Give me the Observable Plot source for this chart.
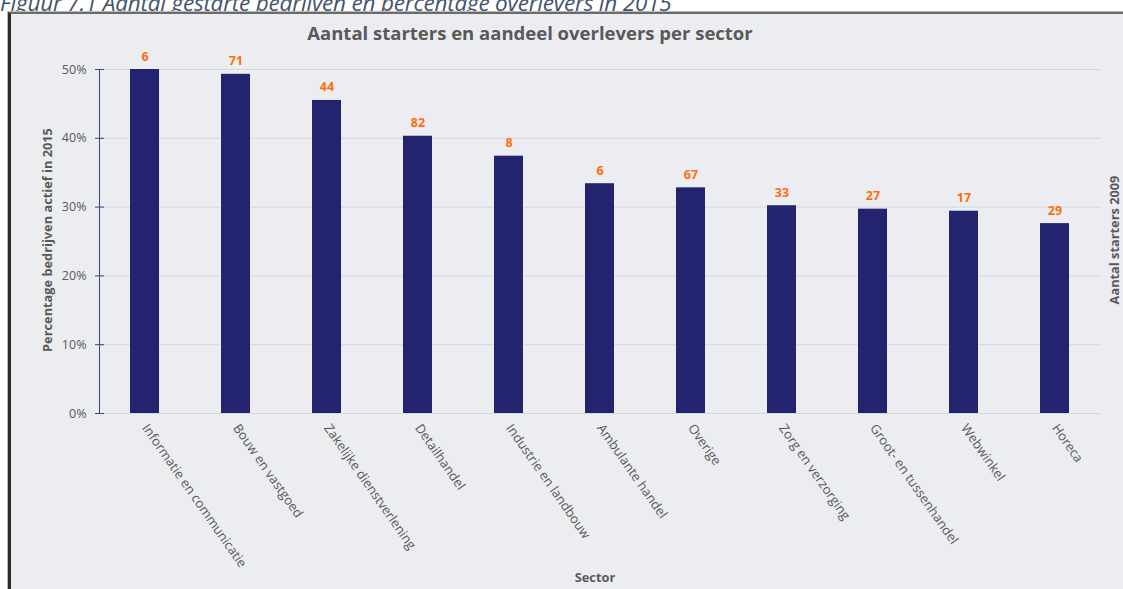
<!DOCTYPE html>
<html>
<head>
<meta charset="utf-8">
<script src="https://cdn.jsdelivr.net/npm/d3@7"></script>
<script src="https://cdn.jsdelivr.net/npm/@observablehq/plot@0.6"></script>
<style>
  html, body { margin: 0; padding: 0; background: #fff; overflow: hidden; width: 1123px; height: 589px; }
  #wrap { position: relative; width: 1123px; height: 589px; overflow: hidden; }
  #caption { position: absolute; left: 0; top: -13px; font: italic 22.5px "Open Sans", sans-serif; color: #44546a; white-space: nowrap; letter-spacing: -0.2px; }
  #frame { position: absolute; left: 8px; top: 12px; width: 1130px; height: 600px; background: #ecedf1; border-left: 3px solid #2b2b2b; border-top: 2px solid #6b6b6b; box-shadow: -1px -1px 0 #b8b8b8; }
  #chart { position: absolute; left: 0; top: 0; }
  .lbl { position: absolute; font-family: "Open Sans", sans-serif; font-weight: bold; color: #595959; white-space: nowrap; }
  #title { left: 530px; top: 32px; transform: translate(-50%, -50%); font-size: 18.5px; }
  #ylab { left: 47px; top: 240px; transform: translate(-50%, -50%) rotate(-90deg); font-size: 12.8px; }
  #ylab2 { left: 1114px; top: 240px; transform: translate(-50%, -50%) rotate(-90deg); font-size: 12.8px; }
  #xlab { left: 595px; top: 578px; transform: translate(-50%, -50%); font-size: 12.8px; line-height: 1.2; }
</style>
</head>
<body>
<div id="wrap">
  <div id="caption">Figuur 7.1 Aantal gestarte bedrijven en percentage overlevers in 2015</div>
  <div id="frame"></div>
  <div id="chart"></div>
  <div class="lbl" id="title">Aantal starters en aandeel overlevers per sector</div>
  <div class="lbl" id="ylab">Percentage bedrijven actief in 2015</div>
  <div class="lbl" id="ylab2">Aantal starters 2009</div>
  <div class="lbl" id="xlab">Sector</div>
</div>
<script>
const sectors = [
  "Informatie en communicatie",
  "Bouw en vastgoed",
  "Zakelijke dienstverlening",
  "Detailhandel",
  "Industrie en landbouw",
  "Ambulante handel",
  "Overige",
  "Zorg en verzorging",
  "Groot- en tussenhandel",
  "Webwinkel",
  "Horeca"
];
const survivalPct = [50.0, 49.3, 45.5, 40.3, 37.4, 33.4, 32.8, 30.2, 29.7, 29.4, 27.6];
const starters2009 = [6, 71, 44, 82, 8, 6, 67, 33, 27, 17, 29];
const yTicks = [0, 10, 20, 30, 40, 50];

const data = sectors.map((s, i) => ({sector: s, pct: survivalPct[i], n: starters2009[i]}));

const chart = Plot.plot({
  width: 1123,
  height: 589,
  marginLeft: 99,
  marginRight: 22,
  marginTop: 69,
  marginBottom: 176,
  style: {background: "transparent", fontFamily: "Open Sans, sans-serif", fontSize: "12px", color: "#595959"},
  x: {domain: sectors, paddingInner: 0.68, paddingOuter: 0.34, label: null},
  y: {domain: [0, 50], label: null},
  marks: [
    Plot.gridY(yTicks, {stroke: "#d6d7dc", strokeOpacity: 1}),
    Plot.axisY(yTicks, {tickSize: 9, dx: 5, stroke: "#3d3d8c", tickFormat: () => "", label: null}),
    Plot.axisY(yTicks, {tickSize: 0, tickPadding: 13, tickFormat: d => d + "%", fill: "#595959", fontSize: 12.5, label: null}),
    Plot.frame({anchor: "left", stroke: "#3d3d8c"}),
    Plot.barY(data, {x: "sector", y: "pct", fill: "#232370"}),
    Plot.text(data, {x: "sector", y: "pct", text: d => String(d.n), dy: -13, fill: "#ff6d0a", fontWeight: "bold", fontSize: 12.5}),
    Plot.axisX({tickSize: 0, tickPadding: 12, tickRotate: 55, fill: "#595959", fontSize: 13, label: null})
  ]
});
document.getElementById("chart").appendChild(chart);
</script>
</body>
</html>
